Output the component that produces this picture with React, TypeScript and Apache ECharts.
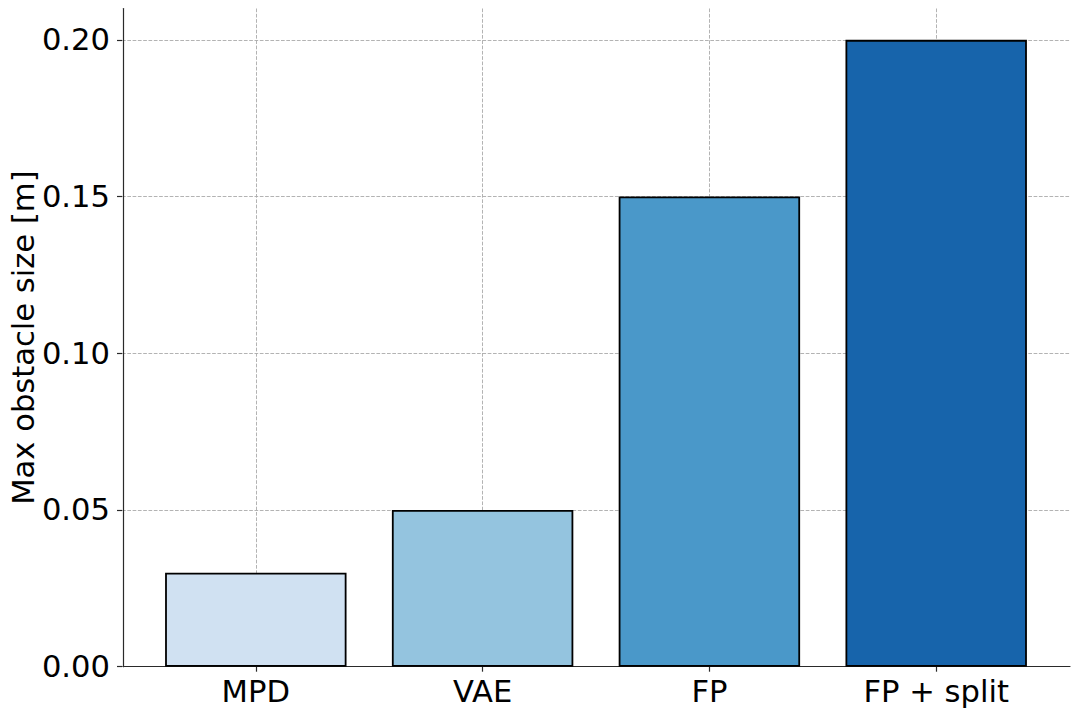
import React, { useEffect, useRef } from 'react';
import * as echarts from 'echarts';

const categories = ['MPD', 'VAE', 'FP', 'FP + split'];
const values = [0.03, 0.05, 0.15, 0.2];
const barColors = ['#d0e1f2', '#94c4df', '#4a98c9', '#1764ab'];
const yTickMax = 0.2;
const yTickStep = 0.05;
const yAxisTitle = 'Max obstacle size [m]';
const yRangeMax = 0.21;

const FONT = 'DejaVu Sans';
const FS = 30.6;
const AXIS_COLOR = '#2a2a2a';
const GRID_COLOR = '#aaaaaa';

export default function App() {
  const ref = useRef<HTMLDivElement>(null);

  useEffect(() => {
    if (!ref.current) return;
    const chart = echarts.init(ref.current, null, { renderer: 'svg' });

    const plotLeft = 122;
    const plotRight = 1070;
    const plotTop = 8.5;
    const plotBottom = 666.7;
    const w0 = plotRight - plotLeft;
    const h0 = plotBottom - plotTop;
    const h1 = (h0 * yTickMax) / yRangeMax;
    const top1 = plotBottom - h1;
    const unit = w0 / 4.18;
    const left2 = plotLeft + 0.09 * unit;
    const w2 = 4 * unit;

    const dashed = { color: GRID_COLOR, width: 0.9, type: [3.7, 1.6] as any };

    const option: any = {
      animation: false,
      backgroundColor: '#ffffff',
      grid: [
        { left: plotLeft, top: plotTop, width: w0, height: h0 },
        { left: plotLeft, top: top1, width: w0, height: h1 },
        { left: left2, top: plotTop, width: w2, height: h0 },
      ],
      xAxis: [
        {
          gridIndex: 0,
          type: 'value',
          min: 0,
          max: 1,
          axisLine: { show: true, onZero: false, lineStyle: { color: AXIS_COLOR, width: 1.2 } },
          axisTick: { show: false },
          axisLabel: { show: false },
          splitLine: { show: false },
        },
        { gridIndex: 1, type: 'value', min: 0, max: 1, show: false },
        {
          gridIndex: 2,
          type: 'category',
          data: categories,
          axisLine: { show: false },
          axisTick: {
            show: true,
            alignWithLabel: true,
            length: 5,
            lineStyle: { color: AXIS_COLOR, width: 1.2 },
          },
          axisLabel: { fontSize: FS, fontFamily: FONT, color: '#000', margin: 9 },
          splitLine: { show: true, alignWithLabel: true, lineStyle: dashed },
        },
      ],
      yAxis: [
        {
          gridIndex: 0,
          type: 'value',
          min: 0,
          max: yRangeMax,
          axisLine: { show: true, onZero: false, lineStyle: { color: AXIS_COLOR, width: 1.2 } },
          axisTick: { show: false },
          axisLabel: { show: false },
          splitLine: { show: false },
          name: yAxisTitle,
          nameLocation: 'middle',
          nameGap: 84,
          nameTextStyle: { fontSize: FS, fontFamily: FONT, color: '#000' },
        },
        {
          gridIndex: 1,
          type: 'value',
          min: 0,
          max: yTickMax,
          interval: yTickStep,
          axisLine: { show: false },
          axisTick: { show: true, length: 5, lineStyle: { color: AXIS_COLOR, width: 1.2 } },
          axisLabel: {
            fontSize: FS,
            fontFamily: FONT,
            color: '#000',
            margin: 12,
            formatter: (v: number) => v.toFixed(2),
          },
          splitLine: { show: true, lineStyle: dashed },
        },
        { gridIndex: 2, type: 'value', min: 0, max: yRangeMax, show: false },
      ],
      series: [
        {
          type: 'bar',
          xAxisIndex: 2,
          yAxisIndex: 2,
          barWidth: '80%',
          data: values.map((v, i) => ({ value: v, itemStyle: { color: barColors[i] } })),
          itemStyle: { borderColor: '#000000', borderWidth: 1.8 },
        },
      ],
    };

    chart.setOption(option);
    return () => chart.dispose();
  }, []);

  return (
    <div
      ref={ref}
      style={{ position: 'fixed', left: 0, top: 0, width: 1079, height: 717, background: '#fff' }}
    />
  );
}
